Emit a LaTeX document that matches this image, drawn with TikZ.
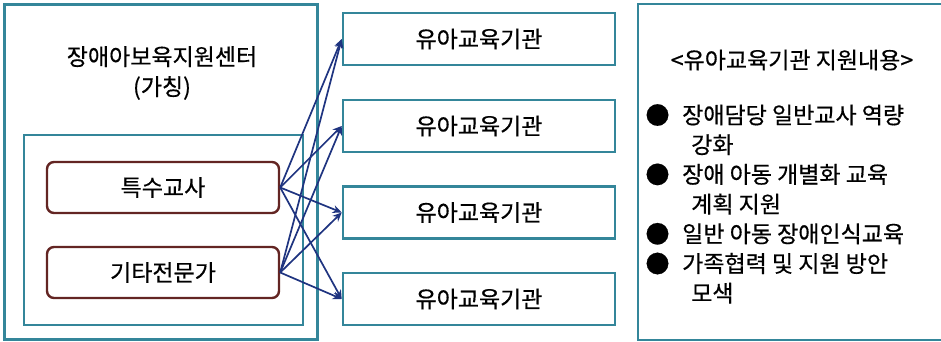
\documentclass[tikz,border=0pt]{standalone}
\usepackage{fontspec}
\usetikzlibrary{arrows.meta}
\newfontfamily\kr[FakeBold=0.5]{Noto Sans CJK KR}
\definecolor{tealb}{RGB}{52,134,154}
\definecolor{brownb}{RGB}{99,37,35}
\definecolor{navya}{RGB}{31,52,128}
\begin{document}
\begin{tikzpicture}[x=1pt,y=-1pt,
  tbox/.style={draw=tealb,line width=2.6pt,rectangle,inner sep=0pt},
  rbox/.style={draw=brownb,line width=2.4pt,rounded corners=7pt,inner sep=0pt,
     minimum width=232pt,minimum height=51pt,font=\kr\fontsize{23}{27}\selectfont},
  ibox/.style={tbox,minimum width=272pt,minimum height=52pt,font=\kr\fontsize{23}{27}\selectfont},
  arr/.style={draw=navya,line width=1.7pt,-{Stealth[length=9pt,width=8pt]}},
  txt/.style={inner sep=0pt,font=\kr\fontsize{23}{27}\selectfont},
  bul/.style={inner sep=0pt,font=\kr\fontsize{24}{24}\selectfont},
]
\useasboundingbox (0,0) rectangle (941,342);
\begin{scope}
\clip (0,0) rectangle (941,342);
% left outer box
\node[tbox,minimum width=313pt,minimum height=335pt] (outer) at (161,172) {};
\node[tbox,minimum width=279pt,minimum height=190pt] (inner) at (163.5,230) {};
\node[txt,align=center] (title) at (162,73) {장애아보육지원센터\\[3pt](가칭)};
\node[rbox] (sp) at (163,187.5) {특수교사};
\node[rbox] (ot) at (163,272.5) {기타전문가};
% institutions
\node[ibox] (i1) at (479,39) {유아교육기관};
\node[ibox] (i2) at (479,126) {유아교육기관};
\node[ibox] (i3) at (479,212.5) {유아교육기관};
\node[ibox] (i4) at (479,299) {유아교육기관};
% right box
\node[tbox,minimum width=314pt,minimum height=336pt] (rb) at (795,172) {};
\node[txt] (rt) at (792,60) {<유아교육기관 지원내용>};
\foreach \n/\y in {a/115,b/174.4,c/233.8,d/263.5}
  \node[bul,anchor=center] (b\n) at (657.5,\y) {●};
\node[txt,anchor=west] (l1) at (682,115) {장애담당 일반교사 역량};
\node[txt,anchor=west] (l2) at (691,144.7) {강화};
\node[txt,anchor=west] (l3) at (682,174.4) {장애 아동 개별화 교육};
\node[txt,anchor=west] (l4) at (691,204.1) {계획 지원};
\node[txt,anchor=west] (l5) at (682,233.8) {일반 아동 장애인식교육};
\node[txt,anchor=west] (l6) at (682,263.5) {가족협력 및 지원 방안};
\node[txt,anchor=west] (l7) at (691,293.2) {모색};
% arrows
\foreach \s in {sp,ot}
  \foreach \t in {i1,i2,i3,i4}
    \draw[arr] (\s.east) -- (\t.west);
\end{scope}
\end{tikzpicture}
\end{document}
